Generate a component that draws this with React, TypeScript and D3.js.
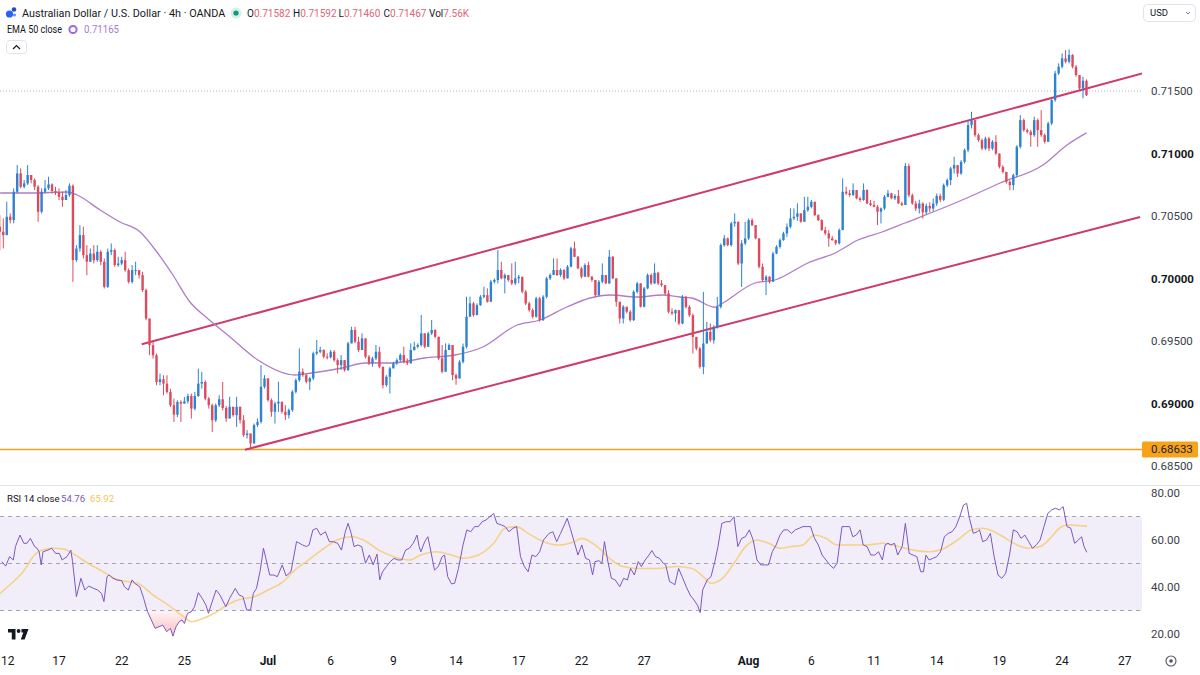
import React from "react";
import * as d3 from "d3";

// ---------------- DATA ----------------
// 4h candles, bar index counted from the first bar of Jun 12 (bar 0); arrays start at bar 1
const firstBar = 1;
const firstOpen = 0.70414;

const closes = [
  0.70374,0.70347,0.70494,0.70467,0.70694,0.70841,0.70734,0.70761,0.70828,0.70788,
  0.70734,0.70534,0.70694,0.70721,0.70753,0.70700,0.70689,0.70654,0.70628,0.70668,
  0.70742,0.70147,0.70240,0.70347,0.70187,0.70134,0.70200,0.70147,0.70214,0.70134,
  0.69933,0.70214,0.70227,0.70107,0.70120,0.70147,0.70067,0.69973,0.70067,0.70067,
  0.70027,0.69907,0.69680,0.69466,0.69386,0.69172,0.69194,0.69159,0.69092,0.68986,
  0.68911,0.69012,0.68999,0.69018,0.69060,0.68959,0.69060,0.69159,0.69172,0.69039,
  0.68986,0.68866,0.68986,0.69034,0.68964,
  0.68880,0.68974,0.68907,0.68974,0.68867,0.68747,0.68760,0.68680,0.68827,0.68853,
  0.69134,0.69201,0.69027,0.68934,0.69000,0.69014,0.68934,0.68907,0.68947,0.69094,
  0.69187,0.69254,0.69227,0.69174,0.69201,0.69401,0.69414,0.69428,0.69374,0.69369,
  0.69414,0.69347,0.69307,0.69347,0.69267,0.69481,0.69588,0.69494,0.69428,0.69521,
  0.69374,0.69321,0.69361,0.69414,0.69294,0.69147,0.69214,0.69281,0.69321,0.69347,
  0.69388,0.69334,0.69321,0.69428,0.69454,0.69468,0.69561,0.69454,0.69561,0.69588,
  0.69534,0.69361,0.69254,0.69428,0.69468,0.69227,
  0.69200,0.69333,0.69454,0.69694,0.69801,0.69707,0.69787,0.69854,0.69867,0.69814,
  0.69974,0.69988,0.70068,0.70001,0.70028,0.69988,0.69961,0.70001,0.70014,0.69894,
  0.69801,0.69747,0.69694,0.69841,0.69667,0.69854,0.70001,0.70028,0.70068,0.70028,
  0.70068,0.70001,0.70094,0.70241,0.70174,0.70081,0.70014,0.70108,0.70014,0.69988,
  0.69867,0.69974,0.70028,0.69961,0.70174,0.70001,0.69814,0.69680,0.69774,0.69734,
  0.69667,0.69894,0.69961,0.69774,0.69921,0.70028,0.69961,0.70046,0.69961,0.69947,
  0.69881,0.69734,0.69721,0.69747,0.69640,0.69854,
  0.69773,0.69706,0.69533,0.69440,0.69293,0.69480,0.69573,0.69506,0.69613,0.69773,
  0.70267,0.70321,0.70267,0.70441,0.70454,0.70120,0.70281,0.70321,0.70467,0.70427,
  0.70321,0.70094,0.69987,0.70014,0.69974,0.70200,0.70254,0.70307,0.70361,0.70414,
  0.70481,0.70494,0.70521,0.70454,0.70547,0.70574,0.70614,0.70507,0.70467,0.70387,
  0.70361,0.70321,0.70307,0.70281,0.70387,0.70694,0.70681,0.70668,0.70708,0.70641,
  0.70628,0.70708,0.70601,0.70588,0.70574,0.70534,0.70561,0.70654,0.70681,0.70641,
  0.70660,0.70601,0.70588,
  0.70900,0.70666,0.70600,0.70560,0.70600,0.70530,0.70580,0.70560,0.70600,0.70660,
  0.70630,0.70747,0.70787,0.70880,0.70907,0.70840,0.70933,0.71027,0.71227,0.71267,
  0.71147,0.71107,0.71040,0.71120,0.71040,0.71094,0.71000,0.70893,0.70853,0.70773,
  0.70747,0.70827,0.71054,0.71267,0.71187,0.71174,0.71147,0.71267,0.71187,0.71147,
  0.71094,0.71241,0.71427,0.71641,0.71694,0.71761,0.71734,0.71788,0.71694,0.71628,
  0.71521,0.71582,0.71467,
];

const highs = [
  0.70507,0.70481,0.70614,0.70521,0.70721,0.70908,0.70881,0.70788,0.70908,0.70828,
  0.70801,0.70748,0.70721,0.70788,0.70814,0.70761,0.70734,0.70721,0.70694,0.70708,
  0.70761,0.70753,0.70267,0.70427,0.70414,0.70267,0.70240,0.70267,0.70267,0.70227,
  0.70160,0.70240,0.70280,0.70240,0.70174,0.70174,0.70214,0.70080,0.70107,0.70134,
  0.70067,0.70054,0.69920,0.69680,0.69493,0.69399,0.69239,0.69226,0.69226,0.69119,
  0.69039,0.69026,0.69026,0.69052,0.69079,0.69079,0.69092,0.69279,0.69253,0.69186,
  0.69052,0.68999,0.68999,0.69066,0.69172,
  0.68980,0.69054,0.68974,0.69054,0.68974,0.68907,0.68787,0.68760,0.68840,0.68880,
  0.69307,0.69227,0.69201,0.69040,0.69014,0.69174,0.69014,0.68987,0.68960,0.69107,
  0.69201,0.69441,0.69281,0.69241,0.69214,0.69414,0.69508,0.69454,0.69434,0.69401,
  0.69428,0.69428,0.69361,0.69388,0.69347,0.69494,0.69614,0.69614,0.69534,0.69561,
  0.69521,0.69388,0.69374,0.69468,0.69454,0.69294,0.69227,0.69294,0.69334,0.69361,
  0.69401,0.69454,0.69361,0.69481,0.69494,0.69481,0.69708,0.69561,0.69575,0.69668,
  0.69594,0.69534,0.69468,0.69481,0.69481,0.69468,
  0.69240,0.69347,0.69480,0.69854,0.69854,0.69814,0.69801,0.69867,0.69934,0.69921,
  0.69988,0.70001,0.70228,0.70134,0.70041,0.70028,0.70121,0.70134,0.70028,0.70014,
  0.69907,0.69814,0.69761,0.69854,0.69854,0.69867,0.70014,0.70041,0.70161,0.70161,
  0.70081,0.70074,0.70108,0.70254,0.70295,0.70180,0.70094,0.70121,0.70134,0.70020,
  0.69988,0.69988,0.70121,0.70028,0.70228,0.70180,0.70001,0.69814,0.69787,0.69774,
  0.69747,0.69907,0.69974,0.69961,0.69934,0.70041,0.70041,0.70121,0.70054,0.69988,
  0.69947,0.69907,0.69761,0.69752,0.69747,0.69867,
  0.69859,0.69787,0.69720,0.69533,0.69453,0.69893,0.69653,0.69640,0.69626,0.69853,
  0.70281,0.70347,0.70328,0.70454,0.70521,0.70454,0.70307,0.70454,0.70481,0.70481,
  0.70427,0.70321,0.70120,0.70027,0.70019,0.70214,0.70267,0.70321,0.70374,0.70441,
  0.70561,0.70561,0.70601,0.70515,0.70654,0.70654,0.70628,0.70614,0.70513,0.70473,
  0.70414,0.70387,0.70339,0.70312,0.70401,0.70801,0.70734,0.70708,0.70761,0.70708,
  0.70654,0.70761,0.70713,0.70628,0.70622,0.70588,0.70569,0.70668,0.70708,0.70686,
  0.70676,0.70708,0.70614,
  0.70925,0.70920,0.70680,0.70620,0.70630,0.70610,0.70600,0.70610,0.70640,0.70680,
  0.70680,0.70760,0.70800,0.70893,0.70974,0.70907,0.70947,0.71040,0.71267,0.71334,
  0.71241,0.71160,0.71120,0.71134,0.71134,0.71107,0.71147,0.71000,0.70907,0.70853,
  0.70787,0.70840,0.71067,0.71307,0.71280,0.71200,0.71190,0.71294,0.71280,0.71347,
  0.71160,0.71254,0.71441,0.71661,0.71721,0.71801,0.71828,0.71833,0.71795,0.71708,
  0.71628,0.71614,0.71592,
];

const lows = [
  0.70227,0.70240,0.70347,0.70441,0.70441,0.70681,0.70721,0.70721,0.70748,0.70761,
  0.70708,0.70454,0.70521,0.70681,0.70708,0.70681,0.70668,0.70628,0.70574,0.70628,
  0.70654,0.69973,0.70134,0.70214,0.70160,0.70027,0.70134,0.70120,0.70134,0.70107,
  0.69920,0.69925,0.70187,0.70094,0.70094,0.70107,0.70054,0.69960,0.69960,0.70027,
  0.70000,0.69893,0.69666,0.69386,0.69359,0.69146,0.69146,0.69066,0.69079,0.68972,
  0.68852,0.68892,0.68852,0.68999,0.68999,0.68879,0.68945,0.69052,0.69119,0.69026,
  0.68959,0.68772,0.68852,0.68972,0.68945,
  0.68853,0.68880,0.68894,0.68813,0.68840,0.68733,0.68720,0.68640,0.68693,0.68813,
  0.68840,0.69120,0.69014,0.68894,0.68840,0.68934,0.68920,0.68867,0.68880,0.68934,
  0.69080,0.69174,0.69214,0.69161,0.69107,0.69187,0.69388,0.69401,0.69361,0.69353,
  0.69361,0.69334,0.69241,0.69267,0.69254,0.69261,0.69481,0.69481,0.69414,0.69428,
  0.69361,0.69307,0.69294,0.69347,0.69281,0.69120,0.69134,0.69080,0.69281,0.69307,
  0.69334,0.69321,0.69307,0.69321,0.69422,0.69441,0.69454,0.69441,0.69454,0.69548,
  0.69521,0.69347,0.69241,0.69254,0.69428,0.69187,
  0.69150,0.69200,0.69320,0.69440,0.69694,0.69694,0.69707,0.69781,0.69841,0.69807,
  0.69814,0.69961,0.69961,0.69994,0.69881,0.69974,0.69947,0.69947,0.69961,0.69881,
  0.69787,0.69734,0.69680,0.69687,0.69654,0.69660,0.69841,0.69988,0.70028,0.70020,
  0.70014,0.69988,0.70001,0.70090,0.70170,0.70074,0.70001,0.70014,0.70010,0.69974,
  0.69854,0.69861,0.69961,0.69955,0.69955,0.69994,0.69774,0.69640,0.69640,0.69721,
  0.69654,0.69660,0.69881,0.69768,0.69768,0.69914,0.69947,0.69955,0.69947,0.69934,
  0.69867,0.69721,0.69707,0.69654,0.69627,0.69634,
  0.69760,0.69693,0.69400,0.69426,0.69279,0.69234,0.69480,0.69493,0.69480,0.69600,
  0.69760,0.70254,0.70259,0.70254,0.70414,0.70107,0.69933,0.70267,0.70307,0.70419,
  0.70313,0.70080,0.69974,0.69867,0.69960,0.69974,0.70195,0.70240,0.70302,0.70334,
  0.70401,0.70467,0.70462,0.70446,0.70454,0.70534,0.70561,0.70499,0.70459,0.70382,
  0.70347,0.70254,0.70302,0.70267,0.70272,0.70387,0.70668,0.70654,0.70660,0.70633,
  0.70614,0.70622,0.70595,0.70579,0.70569,0.70427,0.70441,0.70547,0.70649,0.70633,
  0.70628,0.70595,0.70579,
  0.70600,0.70650,0.70590,0.70540,0.70520,0.70480,0.70510,0.70530,0.70540,0.70580,
  0.70610,0.70620,0.70733,0.70747,0.70840,0.70813,0.70830,0.70920,0.71010,0.71200,
  0.71134,0.71094,0.71027,0.71027,0.71020,0.71027,0.70987,0.70880,0.70840,0.70760,
  0.70707,0.70707,0.70813,0.71040,0.71174,0.71160,0.71054,0.71134,0.71054,0.71134,
  0.71080,0.71107,0.71227,0.71414,0.71628,0.71681,0.71721,0.71721,0.71681,0.71614,
  0.71508,0.71441,0.71460,
];

// EMA 50
const emaBars = [1.1,10.5,20.3,23.2,29.8,35.5,41.3,46.1,50.7,55.6,60.5,67.1,75.1,85.8,90.6,99.3,105.9,113.6,123.1,131.7,139.7,149.5,156.1,163.8,170.5,176.2,184,191.4,196.3,199.7,206.3,208.4,217.8,223.6,233,240.8,247.4,254.3,260.9,278.7,288.2,300.5,307.4,313];
const emaValues = [0.70684,0.70684,0.70692,0.70668,0.70548,0.70452,0.70372,0.70212,0.70028,0.69812,0.69684,0.69532,0.69348,0.69228,0.69244,0.69284,0.69324,0.69324,0.69364,0.69388,0.69452,0.69628,0.69668,0.69772,0.69844,0.69868,0.69852,0.69868,0.69852,0.69844,0.69770,0.69800,0.69964,0.69988,0.70124,0.70204,0.70308,0.70372,0.70444,0.70644,0.70764,0.70908,0.71068,0.71165];

// RSI 14
const rsiBars = [1.6,2.7,3.8,4.9,5.5,6.8,7.9,8.8,9.8,11.0,11.7,12.3,12.9,13.4,14.8,15.9,17.0,18.1,18.9,20.3,21.4,21.9,23.0,24.3,25.4,26.5,28.0,29.1,30.2,30.9,31.8,32.4,33.5,34.6,36.0,36.8,37.9,39.0,39.7,41.2,42.3,43.4,44.5,45.6,46.7,47.8,48.9,50.0,50.7,51.6,52.5,53.3,54.0,54.9,56.0,56.9,58.0,59.1,60.2,60.9,62.0,63.1,64.2,65.9,67.0,68.6,69.7,70.8,71.9,73.0,73.8,74.7,75.8,76.7,77.4,78.5,79.6,80.7,82.1,83.2,84.6,86.2,87.9,89.0,89.8,90.9,92.0,93.1,94.5,95.6,96.7,98.0,99.1,100.2,101.0,101.9,102.7,103.8,104.9,106.0,107.1,108.2,109.3,110.1,110.9,112.0,113.1,114.2,115.3,116.4,117.5,118.6,119.7,120.8,121.4,121.9,123.0,123.9,124.7,125.8,126.9,128.0,128.7,129.6,130.7,131.6,132.7,134.0,135.1,136.2,137.3,138.4,139.5,140.6,141.7,142.8,143.7,145.0,146.1,147.2,148.3,149.4,150.5,151.6,152.7,153.8,154.9,156.0,157.1,158.7,159.8,160.9,162.0,163.1,163.9,164.8,165.9,167.0,168.1,169.2,170.3,171.2,171.9,173.0,173.9,174.6,175.5,176.6,177.7,179.0,180.1,181.2,182.1,183.2,184.3,185.2,186.3,187.4,188.2,189.3,190.4,191.5,192.2,193.3,194.2,194.8,195.9,196.9,198.1,199.2,200.3,201.3,202.1,202.8,204.1,205.2,206.3,207.2,208.3,209.6,210.7,211.8,212.9,214.0,215.1,216.2,217.3,218.4,219.5,220.6,221.7,222.8,223.9,225.0,226.1,227.2,228.3,229.4,230.5,231.6,232.7,233.8,234.9,236.0,237.1,238.2,239.3,240.4,241.4,242.8,243.9,245.0,245.9,246.9,248.0,248.9,250.0,251.1,252.2,253.3,254.4,255.2,256.0,256.8,257.9,258.8,260.1,261.0,262.1,263.2,264.3,265.4,266.2,266.9,267.8,268.9,270.0,271.1,272.2,273.3,274.4,275.5,276.6,277.7,278.6,279.4,280.5,281.6,282.3,283.2,284.3,285.4,286.5,287.6,288.7,289.8,290.9,292.0,293.1,294.2,295.3,296.4,297.5,298.6,299.7,300.8,301.9,303.0,304.1,305.2,306.3,307.4,308.5,309.6,310.7,311.6,312.3,313.1];
const rsiValues = [50.8,48.9,52.9,51.5,57.2,62.1,58.6,58.6,60.7,57.2,56.5,55.0,49.4,55.0,55.7,56.5,54.3,54.3,51.5,52.9,55.7,50.8,35.9,43.7,38.7,40.4,39.4,38.7,37.3,33.8,44.4,45.1,43.7,43.0,42.7,40.1,38.7,43.0,41.6,40.1,35.2,29.5,26.0,22.4,23.1,23.8,21.0,22.4,19.1,23.1,25.2,26.0,24.5,28.8,29.5,31.6,37.6,35.2,32.3,28.8,33.8,38.7,36.6,31.6,35.2,39.4,36.6,35.9,30.2,30.2,37.3,39.4,47.2,56.5,52.2,45.1,45.1,44.4,49.4,44.7,46.5,59.3,57.9,57.2,57.9,64.3,65.0,62.1,63.5,59.3,59.3,58.6,55.7,63.5,67.1,62.8,57.2,57.9,57.2,50.1,53.6,49.4,54.0,43.0,46.5,48.7,50.8,52.2,51.5,51.5,55.7,56.5,58.6,62.1,57.2,55.0,59.3,61.4,55.7,47.2,48.7,52.9,53.6,44.4,41.3,41.6,47.9,57.9,64.3,63.5,65.7,65.7,67.8,68.5,69.9,71.3,67.1,66.4,65.7,63.5,65.0,65.7,52.9,48.7,46.5,53.6,52.9,55.0,60.0,62.8,63.5,59.3,62.8,66.4,69.2,65.0,59.3,53.6,57.9,52.2,51.5,45.1,50.8,51.2,50.1,59.3,51.5,43.7,43.0,40.1,43.7,43.0,47.9,45.1,50.8,48.7,51.5,53.6,55.5,52.9,52.2,50.1,49.4,42.3,41.6,40.9,47.9,44.4,40.1,36.6,34.5,32.3,29.1,38.7,43.0,44.4,50.8,57.2,67.1,67.8,67.8,69.9,57.2,60.7,61.4,64.3,60.0,51.5,49.4,49.4,49.4,55.0,57.9,62.1,64.3,64.3,62.8,64.3,65.0,65.7,65.7,65.7,60.7,57.9,53.6,51.5,49.4,47.9,50.1,65.7,65.7,65.7,61.4,62.1,64.3,57.9,57.2,53.6,53.6,55.0,51.5,57.9,58.6,57.9,58.6,53.6,57.2,67.1,54.3,53.6,52.9,46.5,46.5,53.6,51.5,52.2,52.9,55.0,61.4,62.8,63.5,65.7,69.9,74.9,75.6,69.2,62.8,63.5,64.3,59.3,60.0,62.8,52.9,45.1,43.7,45.8,53.6,64.3,63.5,60.7,62.1,59.3,56.5,57.9,60.0,65.7,71.3,72.8,73.5,72.8,74.2,65.7,65.0,58.6,60.0,61.4,57.2,54.76];

// RSI-based moving average
const rsiMaBars = [1.1,4.4,7.7,11.0,13.1,16.4,19.7,21.9,26.3,30.7,35.1,40.6,45.0,49.4,53.8,56.0,58.2,62.6,67.0,71.4,73.6,78.0,82.4,85.7,89.0,93.4,97.8,102.1,105.4,109.8,114.2,118.6,121.9,126.3,130.7,134.0,138.4,142.8,146.1,149.4,152.7,157.1,161.5,165.9,168.1,172.5,176.6,179.9,184.3,189.8,195.3,199.7,203.0,205.2,208.5,211.8,215.1,218.4,221.7,225.0,228.3,231.6,234.9,238.2,241.4,245.9,250.2,254.6,259.0,263.4,267.8,272.2,276.6,279.9,283.2,286.5,289.8,293.1,296.4,299.7,303.0,305.2,307.4,313.1];
const rsiMaValues = [37.3,41.6,46.5,53.6,55.7,56.5,56.0,54.3,50.1,46.5,43.0,41.6,36.6,32.3,27.4,25.2,26.0,28.8,33.0,35.2,35.6,38.7,42.3,47.2,50.8,55.7,60.0,61.4,60.0,55.7,52.9,51.5,53.6,55.0,53.6,52.2,53.6,58.6,65.0,65.7,62.8,59.3,57.9,59.3,60.7,57.2,51.5,48.7,47.9,47.9,48.7,47.9,44.4,41.6,43.7,50.1,57.2,60.0,58.6,56.5,57.2,57.9,62.1,60.7,57.9,57.9,57.9,58.6,57.2,55.7,55.0,56.5,60.7,64.3,65.0,63.5,60.7,57.9,56.5,57.2,61.4,65.0,66.4,65.92];

// Trend channel (bar, price) and levels
const channelUpper = [[41.75, 0.69474], [329.2, 0.71642]];
const channelLower = [[71.4, 0.68630], [328.4, 0.70492]];
const supportLevel = 0.68633;
const dottedLevel = 0.715;

// Axis ticks
const tickLabels = ["12","17","22","25","Jul","6","9","14","17","22","27","Aug","6","11","14","19","24","27"];
const tickBars = [0,18,36,54,78,96,114,132,150,168,186,216,234,252,270,288,306,324];
const monthLabels = ["Jul", "Aug"];
const priceTicks = [0.715, 0.71, 0.705, 0.70, 0.695, 0.69, 0.685];
const rsiTicks = [80, 60, 40, 20];
const rsiLevels = [70, 50, 30];

// Header values
const headerTitle = "Australian Dollar / U.S. Dollar · 4h · OANDA";
const ohlcLabels = ["O", "H", "L", "C", "Vol"];
const ohlcValues = ["0.71582", "0.71592", "0.71460", "0.71467", "7.56K"];
const emaLabel = "EMA 50 close";
const emaLast = "0.71165";
const rsiLabel = "RSI 14 close";
const rsiLast = "54.76";
const rsiMaLast = "65.92";

// ---------------- CHART ----------------
const FONT = "Roboto, 'Noto Sans', 'DejaVu Sans', sans-serif";
const UP = "#2E82D0";
const DOWN = "#DD4A5E";
const TEXT = "#131722";

export default function App() {
  const W = 1200, H = 675, PR = 1142;
  const BAR = 3.483;
  const x = d3.scaleLinear().domain([0, 100]).range([-3.7, -3.7 + 100 * BAR]);
  const y = d3.scaleLinear().domain([0.685, 0.715]).range([466, 91]);
  const yr = d3.scaleLinear().domain([20, 80]).range([634, 493]);

  const candles = closes.map((c, i) => {
    const o = i === 0 ? firstOpen : closes[i - 1];
    const h = Math.max(highs[i], o, c);
    const l = Math.min(lows[i], o, c);
    return { bar: firstBar + i, o, h, l, c };
  });

  const emaPath = d3.line<number>()
    .x((_, i) => x(emaBars[i])).y((v) => y(v))
    .curve(d3.curveMonotoneX)(emaValues) || "";
  const rsiPath = d3.line<number>()
    .x((_, i) => x(rsiBars[i])).y((v) => yr(v))(rsiValues) || "";
  const rsiAreaPath = d3.area<number>()
    .x((_, i) => x(rsiBars[i])).y0(yr(30)).y1((v) => yr(v))(rsiValues) || "";
  const rsiMaPath = d3.line<number>()
    .x((_, i) => x(rsiMaBars[i])).y((v) => yr(v))
    .curve(d3.curveMonotoneX)(rsiMaValues) || "";
  const chan = (pts: number[][]) =>
    d3.line<number[]>().x((p) => x(p[0])).y((p) => y(p[1]))(pts) || "";

  const bw = 2.4;
  // header OHLC group start positions
  const ohlcX = [247, 293, 338.5, 383.5, 429];

  return (
    <svg width={W} height={H} viewBox={`0 0 ${W} ${H}`}
      style={{ position: "absolute", left: 0, top: 0, background: "#fff" }}
      fontFamily={FONT}>
      <defs>
        <clipPath id="plotClip"><rect x={0} y={0} width={PR} height={485} /></clipPath>
        <clipPath id="rsiClip"><rect x={0} y={487} width={PR} height={160} /></clipPath>
        <clipPath id="osClip"><rect x={0} y={yr(30)} width={PR} height={60} /></clipPath>
        <linearGradient id="osGrad" x1="0" y1={yr(30)} x2="0" y2={yr(18)} gradientUnits="userSpaceOnUse">
          <stop offset="0" stopColor="#F23645" stopOpacity={0.05} />
          <stop offset="1" stopColor="#F23645" stopOpacity={0.35} />
        </linearGradient>
      </defs>
      <rect x={0} y={0} width={W} height={H} fill="#fff" />

      {/* ---------- price pane ---------- */}
      <g clipPath="url(#plotClip)">
        <line x1={0} x2={PR} y1={y(dottedLevel)} y2={y(dottedLevel)}
          stroke="#B2B5BE" strokeWidth={1} strokeDasharray="1 2" />
        <line x1={0} x2={PR} y1={y(supportLevel)} y2={y(supportLevel)}
          stroke="#F5A01A" strokeWidth={1.5} />
        <path d={chan(channelUpper)} stroke="#CF3A6C" strokeWidth={2} fill="none" />
        <path d={chan(channelLower)} stroke="#CF3A6C" strokeWidth={2} fill="none" />
        <path d={emaPath} stroke="#B07CC8" strokeWidth={1.3} fill="none" />
        {candles.map((d) => {
          const cx = x(d.bar);
          const col = d.c >= d.o ? UP : DOWN;
          const top = y(Math.max(d.o, d.c));
          const bot = y(Math.min(d.o, d.c));
          return (
            <g key={d.bar}>
              <line x1={cx} x2={cx} y1={y(d.h)} y2={y(d.l)} stroke={col} strokeWidth={1} />
              <rect x={cx - bw / 2} y={top} width={bw} height={Math.max(1, bot - top)} fill={col} />
            </g>
          );
        })}
      </g>

      {/* price axis */}
      {priceTicks.map((p) => {
        const bold = Math.abs(p * 100 - Math.round(p * 100)) < 1e-6;
        return (
          <text key={p} x={1151} y={y(p) + 4} fontSize={11.5}
            fontWeight={bold ? 700 : 400} fill={bold ? TEXT : "#3a3e4a"}>
            {p.toFixed(5)}
          </text>
        );
      })}
      <rect x={1142} y={y(supportLevel) - 8} width={56} height={16} rx={1.5} fill="#F7A21B" />
      <text x={1151} y={y(supportLevel) + 4} fontSize={11.5} fill="#1E222D">{supportLevel.toFixed(5)}</text>

      {/* header */}
      <g>
        <circle cx={9.5} cy={14} r={3.6} fill="#2962FF" />
        <circle cx={14} cy={9.5} r={2.3} fill="#2B4BB8" />
        <circle cx={14.5} cy={15} r={1.6} fill="#6A8DF5" />
        <text x={22} y={17} fontSize={10.8} fill={TEXT}>{headerTitle}</text>
        <circle cx={236} cy={13} r={5.5} fill="#D6F0E8" />
        <circle cx={236} cy={13} r={2.6} fill="#089981" />
        <text y={17} fontSize={10}>
          {ohlcLabels.map((lab, i) => (
            <tspan key={lab} x={ohlcX[i]}>
              <tspan fill={TEXT}>{lab}</tspan>
              <tspan fill="#E0657A">{ohlcValues[i]}</tspan>
            </tspan>
          ))}
        </text>
        <text x={7} y={33} fontSize={10.5} fill={TEXT} textLength={55} lengthAdjust="spacingAndGlyphs">
          {emaLabel}
        </text>
        <circle cx={73} cy={29.5} r={3.6} fill="none" stroke="#9C6ADE" strokeWidth={2} />
        <text x={84} y={33} fontSize={10.5} fill="#A57BD0" textLength={35} lengthAdjust="spacingAndGlyphs">
          {emaLast}
        </text>
        <rect x={6.5} y={40.5} width={20} height={13} rx={3} fill="#fff" stroke="#E0E3EB" />
        <path d="M13 49 L16.5 45.5 L20 49" stroke={TEXT} strokeWidth={1.2} fill="none" />
      </g>

      {/* USD box */}
      <rect x={1143.5} y={4.5} width={52} height={17} rx={4} fill="#fff" stroke="#E0E3EB" />
      <text x={1150} y={16} fontSize={9.5} fill={TEXT}>USD</text>
      <path d="M1186 12 L1188 14 L1190 12" stroke="#787B86" strokeWidth={1} fill="none" />

      {/* pane separator */}
      <line x1={0} x2={W} y1={485.5} y2={485.5} stroke="#E0E3EB" strokeWidth={1} />

      {/* ---------- RSI pane ---------- */}
      <rect x={0} y={yr(70)} width={PR} height={yr(30) - yr(70)} fill="#7E57C2" fillOpacity={0.1} />
      {rsiLevels.map((lv) => (
        <line key={lv} x1={0} x2={PR} y1={yr(lv)} y2={yr(lv)}
          stroke="#A3A6AF" strokeWidth={1} strokeDasharray="4 4" />
      ))}
      <g clipPath="url(#rsiClip)">
        <path d={rsiAreaPath} fill="url(#osGrad)" clipPath="url(#osClip)" />
        <path d={rsiMaPath} stroke="#F7CB77" strokeWidth={1.6} fill="none" opacity={0.85} />
        <path d={rsiPath} stroke="#7E57C2" strokeWidth={1} fill="none" />
      </g>
      <text y={502} fontSize={9.6}>
        <tspan x={7} fill={TEXT}>{rsiLabel}</tspan>
        <tspan x={61} fill="#7E57C2">{rsiLast}</tspan>
        <tspan x={90} fill="#F2C55C">{rsiMaLast}</tspan>
      </text>
      {rsiTicks.map((t) => (
        <text key={t} x={1151} y={yr(t) + 4} fontSize={11.5} fill="#3a3e4a">{t.toFixed(2)}</text>
      ))}

      {/* TradingView logo */}
      <g fill="#131722">
        <path d="M8 629 H15.5 V639.5 H11.8 V632.6 H8 Z" />
        <circle cx={18.6} cy={631} r={1.9} />
        <path d="M21.5 629 H28.5 L24.6 639.5 H20.8 L23.3 632.6 H21.5 Z" />
      </g>

      {/* time axis */}
      {tickLabels.map((t, i) => {
        const isMonth = monthLabels.includes(t);
        const px = x(tickBars[i]);
        const edge = px < 8;
        return (
          <text key={i} x={edge ? 1 : px} y={665} fontSize={12}
            textAnchor={edge ? "start" : "middle"}
            fontWeight={isMonth ? 700 : 400} fill={TEXT}>{t}</text>
        );
      })}
      <circle cx={1171} cy={661} r={5} fill="none" stroke="#50535E" strokeWidth={1.1} />
      <circle cx={1171} cy={661} r={1.8} fill="#50535E" />
    </svg>
  );
}
